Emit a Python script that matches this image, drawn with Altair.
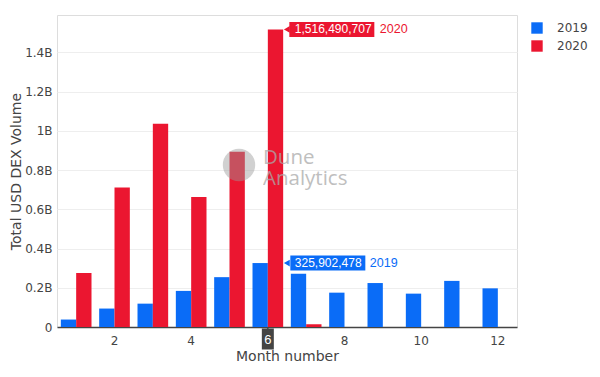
import altair as alt
import pandas as pd

months = list(range(1, 13))
years = ["2019", "2020"]
vol_2019 = [0.038e9, 0.094e9, 0.119e9, 0.184e9, 0.254e9, 325902478,
            0.272e9, 0.175e9, 0.224e9, 0.170e9, 0.235e9, 0.197e9]
vol_2020 = [0.275e9, 0.711e9, 1.036e9, 0.662e9, 0.893e9, 1516490707, 0.014e9]
y_ticks = [0, 0.2e9, 0.4e9, 0.6e9, 0.8e9, 1.0e9, 1.2e9, 1.4e9]
colors = ["#0A6CF7", "#EB1630"]
hover_month = 6
watermark = "Dune\nAnalytics"

rows = []
for m, v in zip(months, vol_2019):
    rows.append({"month": m, "year": "2019", "volume": v})
for m, v in zip(months, vol_2020):
    rows.append({"month": m, "year": "2020", "volume": v})
df = pd.DataFrame(rows)

FONT = "DejaVu Sans"
HFONT = "Liberation Sans"
xscale = alt.Scale(domain=months, paddingInner=0.2, paddingOuter=0.1)
yscale = alt.Scale(domain=[0, 1.59e9], nice=False)

bars = alt.Chart(df).mark_bar().encode(
    x=alt.X("month:O", scale=xscale, title="Month number",
            axis=alt.Axis(labelExpr="datum.value % 2 == 0 ? datum.label : ''",
                          labelAngle=0, ticks=False, grid=False, domain=True,
                          domainColor="#444", domainWidth=1.5,
                          labelColor="#444", labelFontSize=12, labelPadding=8,
                          labelFont=FONT, titleFont=FONT,
                          titleColor="#444", titleFontSize=14, titlePadding=3,
                          titleFontWeight="normal")),
    xOffset=alt.XOffset("year:N", scale=alt.Scale(domain=years, paddingInner=0, paddingOuter=0)),
    y=alt.Y("volume:Q", scale=yscale, title="Total USD DEX Volume",
            axis=alt.Axis(values=y_ticks,
                          labelExpr="datum.value == 0 ? '0' : format(datum.value/1e9, '.1~f') + 'B'",
                          ticks=False, domain=False, grid=True, gridColor="#eeeeee",
                          labelColor="#444", labelFontSize=12, labelPadding=5,
                          labelFont=FONT, titleFont=FONT,
                          titleColor="#444", titleFontSize=14, titlePadding=1,
                          titleFontWeight="normal")),
    color=alt.Color("year:N", scale=alt.Scale(domain=years, range=colors),
                    legend=alt.Legend(title=None, orient="none", legendX=474, legendY=7,
                                      symbolType="square", symbolSize=130,
                                      symbolStrokeWidth=0, labelFontSize=12,
                                      labelFont=FONT,
                                      labelColor="#444", labelOffset=14,
                                      rowPadding=6, padding=0)),
)

ann = df[df["month"] == hover_month].copy()
ann_2019 = ann[ann["year"] == "2019"]
ann_2020 = ann[ann["year"] == "2020"]

def hover(d, color, box_w, box_dx, name_dx):
    base = alt.Chart(d).encode(
        x=alt.X("month:O", scale=xscale),
        y=alt.Y("volume:Q", scale=yscale),
    )
    box = base.mark_rect(color=color, width=box_w, height=15, xOffset=box_dx)
    arrow = base.mark_point(shape="triangle-left", filled=True, color=color,
                            size=45, opacity=1, xOffset=19)
    val = base.mark_text(align="left", baseline="middle", color="white",
                         fontSize=12, font=HFONT, dx=27).encode(
        text=alt.Text("volume:Q", format=","))
    name = base.mark_text(align="left", baseline="middle", color=color,
                          fontSize=12.5, font=HFONT, dx=name_dx).encode(text="year:N")
    return box + arrow + val + name

hov20 = hover(ann_2020, colors[1], 85, 64, 112)
hov19 = hover(ann_2019, colors[0], 75, 60, 102)

spike_df = pd.DataFrame({"month": [hover_month], "volume": [0.0], "label": [str(hover_month)]})
sbase = alt.Chart(spike_df).encode(x=alt.X("month:O", scale=xscale), y=alt.Y("volume:Q", scale=yscale))
sbox = sbase.mark_rect(color="#444", width=12, height=21, yOffset=12)
stri = sbase.mark_point(shape="triangle-up", filled=True, color="#444", size=40, opacity=1, yOffset=3)
stxt = sbase.mark_text(color="white", fontSize=13, font=HFONT, baseline="middle", yOffset=13).encode(text="label:N")

wm_circle = alt.Chart(pd.DataFrame({"a": [0]})).mark_circle(
    color="#999", opacity=0.45, size=1050).encode(x=alt.value(182), y=alt.value(150))
wm_text = alt.Chart(pd.DataFrame({"line": [watermark]})).mark_text(
    align="left", baseline="alphabetic", fontSize=20.5, font="Open Sans", color="#aaa",
    opacity=0.75, lineBreak="\n", lineHeight=21
).encode(x=alt.value(206), y=alt.value(149), text="line:N")

chart = alt.layer(bars, wm_circle, wm_text, hov19, hov20, sbox, stri, stxt).properties(
    width=460, height=312, padding={"left": 1, "top": 7, "right": 0, "bottom": 0}
).configure_view(stroke=None).configure(font=FONT)

chart.save("out.html", embed_options={"renderer": "svg", "actions": False})
